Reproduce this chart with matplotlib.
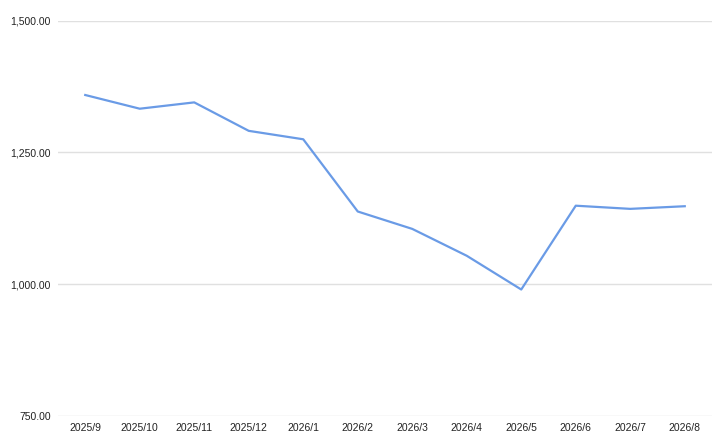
import matplotlib.pyplot as plt
from matplotlib.ticker import FuncFormatter

months = ['2025/9', '2025/10', '2025/11', '2025/12', '2026/1', '2026/2',
          '2026/3', '2026/4', '2026/5', '2026/6', '2026/7', '2026/8']
values = [1359, 1333, 1345, 1291, 1275, 1138, 1105, 1054, 990, 1149, 1143, 1148]
y_ticks = [750, 1000, 1250, 1500]

plt.rcParams['font.family'] = ['Liberation Sans', 'DejaVu Sans']

fig = plt.figure(figsize=(7.23, 4.4), dpi=100)
ax = fig.add_axes([0.0802, 0.0545, 0.9046, 0.8985])

ax.plot(range(len(months)), values, color='#6a9be6', lw=1.6, solid_joinstyle='round')

ax.set_xlim(-0.5, len(months) - 0.5)
ax.set_ylim(750, 1500)
ax.set_yticks(y_ticks)
ax.yaxis.set_major_formatter(FuncFormatter(lambda v, p: f'{v:,.2f}'))
ax.set_xticks(range(len(months)))
ax.set_xticklabels(months)

ax.grid(axis='y', color='#e0e0e0', lw=1)
ax.set_axisbelow(True)
for s in ax.spines.values():
    s.set_visible(False)
ax.tick_params(axis='both', length=0, labelsize=7.5, colors='#222222')
ax.tick_params(axis='y', pad=5)
ax.tick_params(axis='x', pad=5)

fig.savefig('out.png', dpi=100)
